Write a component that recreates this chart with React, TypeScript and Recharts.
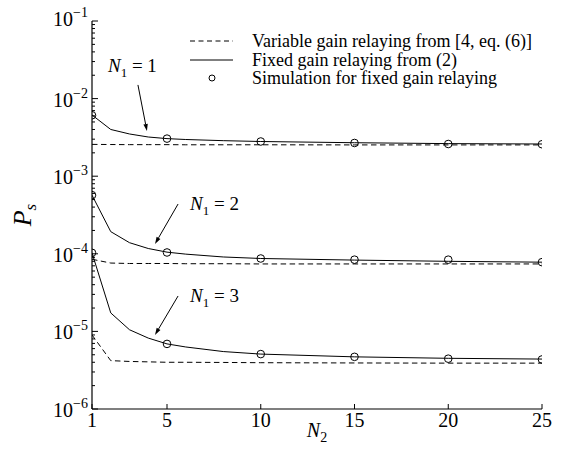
import React from 'react';
import { ComposedChart, Line, XAxis, YAxis, Legend, ReferenceLine, ReferenceDot } from 'recharts';

// N2 values for the analytical curves
const n2Values = [1, 2, 3, 4, 5, 6, 8, 10, 15, 20, 25];
// Variable gain relaying [4, eq. (6)]
const variableN1_1 = [2.57e-3, 2.56e-3, 2.55e-3, 2.55e-3, 2.55e-3, 2.54e-3, 2.54e-3, 2.54e-3, 2.53e-3, 2.53e-3, 2.53e-3];
const variableN1_2 = [8.5e-5, 7.6e-5, 7.5e-5, 7.5e-5, 7.5e-5, 7.45e-5, 7.45e-5, 7.4e-5, 7.4e-5, 7.4e-5, 7.4e-5];
const variableN1_3 = [9.0e-6, 4.2e-6, 4.1e-6, 4.05e-6, 4.0e-6, 4.0e-6, 3.98e-6, 3.95e-6, 3.92e-6, 3.9e-6, 3.9e-6];
// Fixed gain relaying from (2)
const fixedN1_1 = [6.15e-3, 4.0e-3, 3.5e-3, 3.2e-3, 3.05e-3, 2.97e-3, 2.87e-3, 2.8e-3, 2.7e-3, 2.63e-3, 2.6e-3];
const fixedN1_2 = [5.7e-4, 1.93e-4, 1.39e-4, 1.17e-4, 1.05e-4, 9.9e-5, 9.1e-5, 8.7e-5, 8.3e-5, 8.0e-5, 7.8e-5];
const fixedN1_3 = [1.03e-4, 1.73e-5, 1.05e-5, 8.2e-6, 6.9e-6, 6.3e-6, 5.5e-6, 5.1e-6, 4.7e-6, 4.5e-6, 4.4e-6];
// Simulation points
const simN2 = [1, 5, 10, 15, 20, 25];
const simN1_1 = [6.1e-3, 3.05e-3, 2.8e-3, 2.68e-3, 2.6e-3, 2.58e-3];
const simN1_2 = [5.7e-4, 1.04e-4, 8.7e-5, 8.4e-5, 8.4e-5, 7.8e-5];
const simN1_3 = [1.03e-4, 6.9e-6, 5.1e-6, 4.7e-6, 4.45e-6, 4.35e-6];

const xTicks = [1, 5, 10, 15, 20, 25];
const yExponents = [-6, -5, -4, -3, -2, -1];
const minorMultipliers = [2, 3, 4, 5, 6, 7, 8, 9];

const legendLabels = [
  'Variable gain relaying from [4, eq. (6)]',
  'Fixed gain relaying from (2)',
  'Simulation for fixed gain relaying',
];

const annN1 = ['1', '2', '3'];
const annText = [
  { x: 1.85, y: 2.2e-2 },
  { x: 6.23, y: 3.67e-4 },
  { x: 6.23, y: 2.39e-5 },
];
const annArrows = [
  [{ x: 3.45, y: 1.5e-2 }, { x: 3.93, y: 3.82e-3 }],
  [{ x: 5.59, y: 4.38e-4 }, { x: 4.36, y: 1.34e-4 }],
  [{ x: 5.59, y: 2.86e-5 }, { x: 4.36, y: 9.0e-6 }],
];

const FONT = '"Liberation Serif", "Times New Roman", serif';

const toPoints = (xs: number[], ys: number[]) => xs.map((x, i) => ({ x, y: ys[i] }));

const yTicks: number[] = [];
yExponents.forEach((e) => {
  yTicks.push(Math.pow(10, e));
  if (e < -1) minorMultipliers.forEach((m) => yTicks.push(m * Math.pow(10, e)));
});

const isMajor = (v: number) => {
  const l = Math.log10(v);
  return Math.abs(l - Math.round(l)) < 1e-6;
};

const LeftTick = (props: any) => {
  const { x, y, payload } = props;
  const v = payload.value;
  const major = isMajor(v);
  const exp = Math.round(Math.log10(v));
  return (
    <g>
      <line x1={x} x2={x + (major ? 6 : 3)} y1={y} y2={y} stroke="#000" strokeWidth={1} />
      {major && (
        <text x={x - 4} y={y + (exp === -1 ? 5 : 8)} textAnchor="end" fontFamily={FONT} fontSize={20} fill="#000">
          10
          <tspan dy={-9} fontSize={14}>{'\u2212' + String(-exp)}</tspan>
        </text>
      )}
    </g>
  );
};

const RightTick = (props: any) => {
  const { x, y, payload } = props;
  const major = isMajor(payload.value);
  return <line x1={x} x2={x - (major ? 6 : 3)} y1={y} y2={y} stroke="#000" strokeWidth={1} />;
};

const BottomTick = (props: any) => {
  const { x, y, payload } = props;
  return (
    <g>
      <line x1={x} x2={x} y1={y} y2={y - 5} stroke="#000" strokeWidth={1} />
      <text x={x} y={y + 18} textAnchor="middle" fontFamily={FONT} fontSize={20} fill="#000">
        {payload.value}
      </text>
    </g>
  );
};

const TopTick = (props: any) => {
  const { x, y } = props;
  return <line x1={x} x2={x} y1={y} y2={y + 5} stroke="#000" strokeWidth={1} />;
};

const LegendContent = () => (
  <div style={{ fontFamily: FONT, fontSize: 18, color: '#000' }}>
    {legendLabels.map((label, i) => (
      <div key={i} style={{ display: 'flex', alignItems: 'center', height: 18.5 }}>
        <svg width={62} height={18} style={{ flex: 'none' }}>
          {i === 0 && <line x1={0} x2={43} y1={9} y2={9} stroke="#000" strokeDasharray="5 3.5" />}
          {i === 1 && <line x1={0} x2={43} y1={9} y2={9} stroke="#000" />}
          {i === 2 && <circle cx={22} cy={9} r={3} fill="none" stroke="#000" />}
        </svg>
        <span style={{ whiteSpace: 'nowrap', lineHeight: '18px' }}>{label}</span>
      </div>
    ))}
  </div>
);

const Arrow = (props: any) => {
  const { x1, y1, x2, y2 } = props;
  const dx = x2 - x1;
  const dy = y2 - y1;
  const len = Math.sqrt(dx * dx + dy * dy) || 1;
  const ux = dx / len;
  const uy = dy / len;
  const hl = 7;
  const hw = 2.2;
  const bx = x2 - ux * hl;
  const by = y2 - uy * hl;
  return (
    <g>
      <line x1={x1} y1={y1} x2={bx} y2={by} stroke="#000" strokeWidth={1} />
      <polygon
        points={`${x2},${y2} ${bx - uy * hw},${by + ux * hw} ${bx + uy * hw},${by - ux * hw}`}
        fill="#000"
      />
    </g>
  );
};

const makeLabel = (n: string) => (props: any) => {
  const { cx, cy } = props;
  return (
    <text x={cx} y={cy} fontFamily={FONT} fontSize={19} fill="#000">
      <tspan fontStyle="italic">N</tspan>
      <tspan fontSize={13} dy={5}>1</tspan>
      <tspan dy={-5}>{' = ' + n}</tspan>
    </text>
  );
};

const YLabel = (props: any) => {
  const vb = props.viewBox || { x: 0, y: 21, width: 92, height: 388 };
  const cx = vb.x + 31;
  const cy = vb.y + vb.height / 2;
  return (
    <text x={cx} y={cy} transform={`rotate(-90 ${cx} ${cy})`} textAnchor="middle" fontFamily={FONT} fontSize={26} fill="#000">
      <tspan fontStyle="italic">P</tspan>
      <tspan fontStyle="italic" fontSize={17} dy={5}>s</tspan>
    </text>
  );
};

const XLabel = (props: any) => {
  const vb = props.viewBox || { x: 92, y: 409, width: 450, height: 53 };
  const cx = vb.x + vb.width / 2;
  return (
    <text x={cx} y={vb.y + 28} textAnchor="middle" fontFamily={FONT} fontSize={20} fill="#000">
      <tspan fontStyle="italic">N</tspan>
      <tspan fontSize={14} dy={5}>2</tspan>
    </text>
  );
};

export default function App() {
  const dashed = [variableN1_1, variableN1_2, variableN1_3];
  const solid = [fixedN1_1, fixedN1_2, fixedN1_3];
  const sims = [simN1_1, simN1_2, simN1_3];
  return (
    <div style={{ position: 'absolute', left: 0, top: 0, width: 564, height: 462, background: '#fff' }}>
      <ComposedChart width={564} height={462} margin={{ top: 21, right: 22, bottom: 0, left: 0 }}>
        <XAxis
          xAxisId="bottom"
          dataKey="x"
          type="number"
          domain={[1, 25]}
          ticks={xTicks}
          interval={0}
          orientation="bottom"
          height={53}
          tickSize={0}
          tickMargin={0}
          tickLine={false}
          tick={<BottomTick />}
          axisLine={{ stroke: '#000', strokeWidth: 1.2 }}
          allowDataOverflow
          label={<XLabel />}
        />
        <XAxis
          xAxisId="top"
          dataKey="x"
          type="number"
          domain={[1, 25]}
          ticks={xTicks}
          interval={0}
          orientation="top"
          height={0}
          tickSize={0}
          tickMargin={0}
          tickLine={false}
          tick={<TopTick />}
          axisLine={{ stroke: '#000', strokeWidth: 1.2 }}
          allowDataOverflow
        />
        <YAxis
          yAxisId="left"
          dataKey="y"
          type="number"
          scale="log"
          domain={[1e-6, 1e-1]}
          ticks={yTicks}
          interval={0}
          orientation="left"
          width={92}
          tickSize={0}
          tickMargin={0}
          tickLine={false}
          tick={<LeftTick />}
          axisLine={{ stroke: '#000', strokeWidth: 1.2 }}
          allowDataOverflow
          label={<YLabel />}
        />
        <YAxis
          yAxisId="right"
          dataKey="y"
          type="number"
          scale="log"
          domain={[1e-6, 1e-1]}
          ticks={yTicks}
          interval={0}
          orientation="right"
          width={0}
          tickSize={0}
          tickMargin={0}
          tickLine={false}
          tick={<RightTick />}
          axisLine={{ stroke: '#000', strokeWidth: 1.2 }}
          allowDataOverflow
        />
        {dashed.map((vals, i) => (
          <Line
            key={'d' + i}
            xAxisId="bottom"
            yAxisId="left"
            data={toPoints(n2Values, vals)}
            dataKey="y"
            stroke="#000"
            strokeWidth={1}
            strokeDasharray="5.5 3.5"
            dot={false}
            activeDot={false}
            isAnimationActive={false}
          />
        ))}
        {solid.map((vals, i) => (
          <Line
            key={'s' + i}
            xAxisId="bottom"
            yAxisId="left"
            data={toPoints(n2Values, vals)}
            dataKey="y"
            stroke="#000"
            strokeWidth={1}
            dot={false}
            activeDot={false}
            isAnimationActive={false}
          />
        ))}
        {sims.map((vals, i) => (
          <Line
            key={'c' + i}
            xAxisId="bottom"
            yAxisId="left"
            data={toPoints(simN2, vals)}
            dataKey="y"
            stroke="none"
            dot={{ r: 3.8, fill: 'none', stroke: '#000', strokeWidth: 1 }}
            activeDot={false}
            isAnimationActive={false}
          />
        ))}
        {annArrows.map((seg, i) => (
          <ReferenceLine
            key={'a' + i}
            xAxisId="bottom"
            yAxisId="left"
            segment={seg}
            shape={(p: any) => <Arrow {...p} />}
            ifOverflow="visible"
          />
        ))}
        {annText.map((t, i) => (
          <ReferenceDot
            key={'t' + i}
            xAxisId="bottom"
            yAxisId="left"
            x={t.x}
            y={t.y}
            r={0}
            ifOverflow="visible"
            shape={makeLabel(annN1[i])}
          />
        ))}
        <Legend
          layout="vertical"
          align="center"
          verticalAlign="middle"
          content={<LegendContent />}
          wrapperStyle={{ left: 190, top: 32, width: 370, right: 'auto', bottom: 'auto' }}
        />
      </ComposedChart>
    </div>
  );
}
